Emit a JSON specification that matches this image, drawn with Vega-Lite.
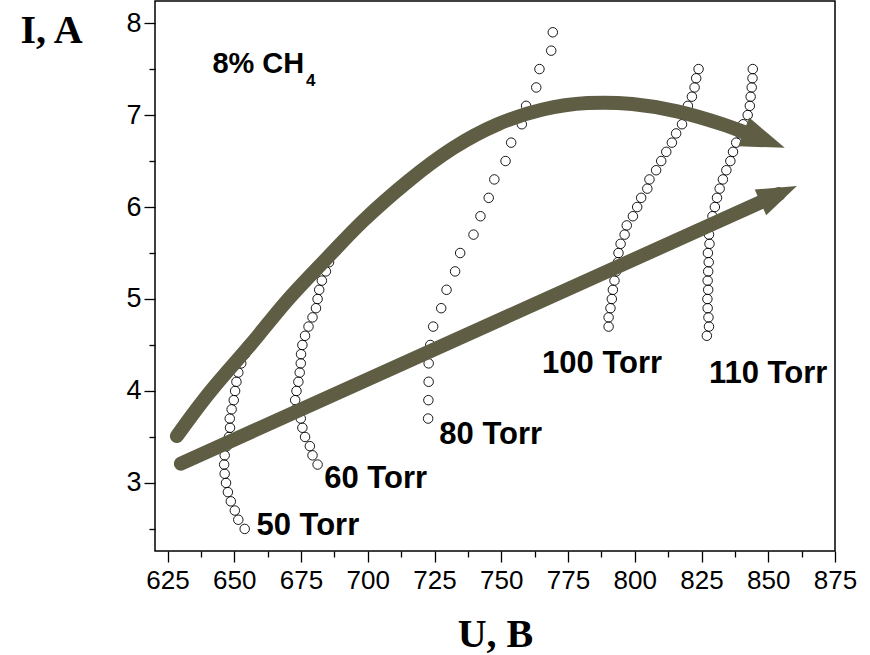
{
  "$schema": "https://vega.github.io/schema/vega-lite/v6.json",
  "width": 680,
  "height": 550,
  "autosize": "none",
  "padding": {"left": 155, "top": 1, "right": 35, "bottom": 104},
  "background": "white",
  "config": {
    "view": {"stroke": "black", "strokeWidth": 1.5},
    "axis": {"labelFont": "Liberation Sans", "labelColor": "black", "tickColor": "black", "tickWidth": 1.3, "grid": false, "domain": false, "labelOverlap": false, "labelFlush": false}
  },
  "datasets": {
    "points": [
      {"p": "50 Torr", "u": 653.9, "i": 2.5}, {"p": "50 Torr", "u": 651.5, "i": 2.6}, {"p": "50 Torr", "u": 650.2, "i": 2.7},
      {"p": "50 Torr", "u": 648.7, "i": 2.8}, {"p": "50 Torr", "u": 647.6, "i": 2.9}, {"p": "50 Torr", "u": 646.9, "i": 3.0},
      {"p": "50 Torr", "u": 646.4, "i": 3.1}, {"p": "50 Torr", "u": 646.2, "i": 3.2}, {"p": "50 Torr", "u": 646.4, "i": 3.3},
      {"p": "50 Torr", "u": 647.2, "i": 3.4}, {"p": "50 Torr", "u": 648.0, "i": 3.5}, {"p": "50 Torr", "u": 648.4, "i": 3.6},
      {"p": "50 Torr", "u": 648.3, "i": 3.7}, {"p": "50 Torr", "u": 649.0, "i": 3.8}, {"p": "50 Torr", "u": 649.8, "i": 3.9},
      {"p": "50 Torr", "u": 650.3, "i": 4.0}, {"p": "50 Torr", "u": 650.8, "i": 4.1}, {"p": "50 Torr", "u": 651.5, "i": 4.2},
      {"p": "50 Torr", "u": 652.6, "i": 4.3}, {"p": "50 Torr", "u": 654.0, "i": 4.4}, {"p": "50 Torr", "u": 655.2, "i": 4.5},

      {"p": "60 Torr", "u": 681.2, "i": 3.2}, {"p": "60 Torr", "u": 679.3, "i": 3.3}, {"p": "60 Torr", "u": 678.3, "i": 3.4},
      {"p": "60 Torr", "u": 676.5, "i": 3.5}, {"p": "60 Torr", "u": 675.5, "i": 3.6}, {"p": "60 Torr", "u": 674.9, "i": 3.7},
      {"p": "60 Torr", "u": 673.0, "i": 3.8}, {"p": "60 Torr", "u": 672.8, "i": 3.9}, {"p": "60 Torr", "u": 673.3, "i": 4.0},
      {"p": "60 Torr", "u": 674.0, "i": 4.1}, {"p": "60 Torr", "u": 674.5, "i": 4.2}, {"p": "60 Torr", "u": 674.9, "i": 4.3},
      {"p": "60 Torr", "u": 675.0, "i": 4.4}, {"p": "60 Torr", "u": 675.5, "i": 4.5}, {"p": "60 Torr", "u": 676.5, "i": 4.6},
      {"p": "60 Torr", "u": 677.8, "i": 4.7}, {"p": "60 Torr", "u": 679.3, "i": 4.8}, {"p": "60 Torr", "u": 680.6, "i": 4.9},
      {"p": "60 Torr", "u": 681.2, "i": 5.0}, {"p": "60 Torr", "u": 681.8, "i": 5.1}, {"p": "60 Torr", "u": 682.8, "i": 5.2},
      {"p": "60 Torr", "u": 684.3, "i": 5.3}, {"p": "60 Torr", "u": 685.5, "i": 5.4},

      {"p": "80 Torr", "u": 722.6, "i": 3.7}, {"p": "80 Torr", "u": 722.7, "i": 3.9}, {"p": "80 Torr", "u": 722.8, "i": 4.1},
      {"p": "80 Torr", "u": 722.8, "i": 4.3}, {"p": "80 Torr", "u": 723.4, "i": 4.5}, {"p": "80 Torr", "u": 724.5, "i": 4.7},
      {"p": "80 Torr", "u": 727.5, "i": 4.9}, {"p": "80 Torr", "u": 729.5, "i": 5.1}, {"p": "80 Torr", "u": 732.7, "i": 5.3},
      {"p": "80 Torr", "u": 734.6, "i": 5.5}, {"p": "80 Torr", "u": 739.6, "i": 5.7}, {"p": "80 Torr", "u": 742.2, "i": 5.9},
      {"p": "80 Torr", "u": 745.3, "i": 6.1}, {"p": "80 Torr", "u": 747.4, "i": 6.3}, {"p": "80 Torr", "u": 751.6, "i": 6.5},
      {"p": "80 Torr", "u": 753.7, "i": 6.7}, {"p": "80 Torr", "u": 757.7, "i": 6.9}, {"p": "80 Torr", "u": 759.3, "i": 7.1},
      {"p": "80 Torr", "u": 763.1, "i": 7.3}, {"p": "80 Torr", "u": 764.3, "i": 7.5}, {"p": "80 Torr", "u": 768.7, "i": 7.7},
      {"p": "80 Torr", "u": 769.3, "i": 7.9},

      {"p": "100 Torr", "u": 790.2, "i": 4.7}, {"p": "100 Torr", "u": 790.2, "i": 4.8}, {"p": "100 Torr", "u": 790.9, "i": 4.9},
      {"p": "100 Torr", "u": 791.4, "i": 5.0}, {"p": "100 Torr", "u": 791.8, "i": 5.1}, {"p": "100 Torr", "u": 792.4, "i": 5.2},
      {"p": "100 Torr", "u": 793.0, "i": 5.3}, {"p": "100 Torr", "u": 793.7, "i": 5.4}, {"p": "100 Torr", "u": 793.9, "i": 5.5},
      {"p": "100 Torr", "u": 794.7, "i": 5.6}, {"p": "100 Torr", "u": 796.2, "i": 5.7}, {"p": "100 Torr", "u": 797.0, "i": 5.8},
      {"p": "100 Torr", "u": 799.3, "i": 5.9}, {"p": "100 Torr", "u": 800.9, "i": 6.0}, {"p": "100 Torr", "u": 802.4, "i": 6.1},
      {"p": "100 Torr", "u": 804.7, "i": 6.2}, {"p": "100 Torr", "u": 805.5, "i": 6.3}, {"p": "100 Torr", "u": 808.0, "i": 6.4},
      {"p": "100 Torr", "u": 809.9, "i": 6.5}, {"p": "100 Torr", "u": 811.8, "i": 6.6}, {"p": "100 Torr", "u": 813.9, "i": 6.7},
      {"p": "100 Torr", "u": 815.5, "i": 6.8}, {"p": "100 Torr", "u": 817.7, "i": 6.9}, {"p": "100 Torr", "u": 818.4, "i": 7.0},
      {"p": "100 Torr", "u": 819.9, "i": 7.1}, {"p": "100 Torr", "u": 821.4, "i": 7.2}, {"p": "100 Torr", "u": 822.4, "i": 7.3},
      {"p": "100 Torr", "u": 823.0, "i": 7.4}, {"p": "100 Torr", "u": 823.9, "i": 7.5},

      {"p": "110 Torr", "u": 827.0, "i": 4.6}, {"p": "110 Torr", "u": 827.8, "i": 4.7}, {"p": "110 Torr", "u": 827.6, "i": 4.8},
      {"p": "110 Torr", "u": 827.3, "i": 4.9}, {"p": "110 Torr", "u": 827.2, "i": 5.0}, {"p": "110 Torr", "u": 827.5, "i": 5.1},
      {"p": "110 Torr", "u": 827.3, "i": 5.2}, {"p": "110 Torr", "u": 827.5, "i": 5.3}, {"p": "110 Torr", "u": 827.7, "i": 5.4},
      {"p": "110 Torr", "u": 827.4, "i": 5.5}, {"p": "110 Torr", "u": 828.0, "i": 5.6}, {"p": "110 Torr", "u": 827.8, "i": 5.7},
      {"p": "110 Torr", "u": 828.6, "i": 5.8}, {"p": "110 Torr", "u": 829.1, "i": 5.9}, {"p": "110 Torr", "u": 830.0, "i": 6.0},
      {"p": "110 Torr", "u": 830.8, "i": 6.1}, {"p": "110 Torr", "u": 831.8, "i": 6.2}, {"p": "110 Torr", "u": 833.0, "i": 6.3},
      {"p": "110 Torr", "u": 834.3, "i": 6.4}, {"p": "110 Torr", "u": 835.8, "i": 6.5}, {"p": "110 Torr", "u": 836.8, "i": 6.6},
      {"p": "110 Torr", "u": 838.0, "i": 6.7}, {"p": "110 Torr", "u": 839.3, "i": 6.8}, {"p": "110 Torr", "u": 840.6, "i": 6.9},
      {"p": "110 Torr", "u": 842.3, "i": 7.0}, {"p": "110 Torr", "u": 843.1, "i": 7.1}, {"p": "110 Torr", "u": 843.4, "i": 7.2},
      {"p": "110 Torr", "u": 843.8, "i": 7.3}, {"p": "110 Torr", "u": 844.1, "i": 7.4}, {"p": "110 Torr", "u": 844.2, "i": 7.5}
    ],
    "arrows": [
      {"a": "upper", "k": 1, "u": 628.5, "i": 3.51},
      {"a": "upper", "k": 2, "u": 641.2, "i": 4.0},
      {"a": "upper", "k": 3, "u": 656.3, "i": 4.51},
      {"a": "upper", "k": 4, "u": 669.7, "i": 4.98},
      {"a": "upper", "k": 5, "u": 684.9, "i": 5.45},
      {"a": "upper", "k": 6, "u": 698.3, "i": 5.85},
      {"a": "upper", "k": 7, "u": 715.1, "i": 6.28},
      {"a": "upper", "k": 8, "u": 731.9, "i": 6.64},
      {"a": "upper", "k": 9, "u": 748.7, "i": 6.9},
      {"a": "upper", "k": 10, "u": 765.5, "i": 7.06},
      {"a": "upper", "k": 11, "u": 782.3, "i": 7.13},
      {"a": "upper", "k": 12, "u": 799.1, "i": 7.12},
      {"a": "upper", "k": 13, "u": 815.9, "i": 7.04},
      {"a": "upper", "k": 14, "u": 832.7, "i": 6.9},
      {"a": "upper", "k": 15, "u": 848.5, "i": 6.73},
      {"a": "lower", "k": 1, "u": 630.0, "i": 3.21},
      {"a": "lower", "k": 2, "u": 853.9, "i": 6.14}
    ],
    "heads": [
      {"a": "upper", "u": 848.5, "i": 6.73},
      {"a": "lower", "u": 853.9, "i": 6.14}
    ],
    "labels": [
      {"kind": "torr", "text": "50 Torr", "u": 658.3, "i": 2.43},
      {"kind": "torr", "text": "60 Torr", "u": 683.7, "i": 2.95},
      {"kind": "torr", "text": "80 Torr", "u": 726.8, "i": 3.42},
      {"kind": "torr", "text": "100 Torr", "u": 765.3, "i": 4.2},
      {"kind": "torr", "text": "110 Torr", "u": 827.8, "i": 4.09},
      {"kind": "gas", "text": "8% CH", "u": 641.8, "i": 7.46},
      {"kind": "sub", "text": "4", "u": 676.9, "i": 7.32}
    ]
  },
  "layer": [
    {
      "data": {"name": "heads"},
      "mark": {"type": "point", "opacity": 0},
      "encoding": {
        "x": {"field": "u", "type": "quantitative", "scale": {"domain": [620.3, 875], "nice": false, "zero": false},
              "axis": {"orient": "bottom", "values": [637.5, 662.5, 687.5, 712.5, 737.5, 762.5, 787.5, 812.5, 837.5, 862.5], "labels": false, "tickSize": 6, "title": null}},
        "y": {"field": "i", "type": "quantitative", "scale": {"domain": [2.26, 8.24], "nice": false, "zero": false},
              "axis": {"orient": "left", "values": [2.5, 3.5, 4.5, 5.5, 6.5, 7.5], "labels": false, "tickSize": 6, "title": null}}
      }
    },
    {
      "encoding": {
        "x": {"field": "u", "type": "quantitative", "scale": {"domain": [620.3, 875], "nice": false, "zero": false},
              "axis": {"orient": "bottom", "values": [625, 650, 675, 700, 725, 750, 775, 800, 825, 850, 875], "tickSize": 11, "labelFontSize": 26, "labelPadding": 5,
                       "title": "U, B", "titleFont": "Liberation Serif", "titleFontSize": 40, "titleFontWeight": "bold", "titleColor": "black",
                       "titleX": 340, "titleY": 95, "titleBaseline": "alphabetic", "titleAlign": "center"}},
        "y": {"field": "i", "type": "quantitative", "scale": {"domain": [2.26, 8.24], "nice": false, "zero": false},
              "axis": {"orient": "left", "values": [3, 4, 5, 6, 7, 8], "tickSize": 11, "labelFontSize": 27, "labelPadding": 3,
                       "title": "I, A", "titleAngle": 0, "titleFont": "Liberation Serif", "titleFontSize": 40, "titleFontWeight": "bold", "titleColor": "black",
                       "titleX": -104, "titleY": 41, "titleBaseline": "alphabetic", "titleAlign": "center"}}
      },
      "layer": [
        {
          "data": {"name": "points"},
          "mark": {"type": "point", "shape": "circle", "size": 90, "filled": false, "stroke": "black", "strokeWidth": 0.9, "opacity": 1},
          "encoding": {"detail": {"field": "p"}}
        },
        {
          "data": {"name": "arrows"},
          "mark": {"type": "line", "color": "#5f5e45", "strokeWidth": 14, "strokeCap": "round", "interpolate": "natural"},
          "encoding": {"detail": {"field": "a"}, "order": {"field": "k", "type": "quantitative"}}
        },
        {
          "data": {"name": "heads"},
          "transform": [{"filter": "datum.a === 'upper'"}],
          "mark": {"type": "point", "shape": "M-1,-0.7L1,0L-1,0.7Z", "filled": true, "color": "#5f5e45", "opacity": 1, "size": 1936, "angle": 21, "strokeWidth": 0}
        },
        {
          "data": {"name": "heads"},
          "transform": [{"filter": "datum.a === 'lower'"}],
          "mark": {"type": "point", "shape": "M-1,-0.7L1,0L-1,0.7Z", "filled": true, "color": "#5f5e45", "opacity": 1, "size": 1600, "angle": -24.3, "strokeWidth": 0}
        },
        {
          "data": {"name": "labels"},
          "transform": [{"filter": "datum.kind === 'torr'"}],
          "mark": {"type": "text", "align": "left", "baseline": "alphabetic", "font": "Liberation Sans", "fontWeight": "bold", "fontSize": 31, "color": "black"},
          "encoding": {"text": {"field": "text"}}
        },
        {
          "data": {"name": "labels"},
          "transform": [{"filter": "datum.kind === 'gas'"}],
          "mark": {"type": "text", "align": "left", "baseline": "alphabetic", "font": "Liberation Sans", "fontWeight": "bold", "fontSize": 29, "color": "black"},
          "encoding": {"text": {"field": "text"}}
        },
        {
          "data": {"name": "labels"},
          "transform": [{"filter": "datum.kind === 'sub'"}],
          "mark": {"type": "text", "align": "left", "baseline": "alphabetic", "font": "Liberation Sans", "fontWeight": "bold", "fontSize": 17, "color": "black"},
          "encoding": {"text": {"field": "text"}}
        }
      ]
    }
  ],
  "resolve": {"scale": {"x": "independent", "y": "independent"}}
}
